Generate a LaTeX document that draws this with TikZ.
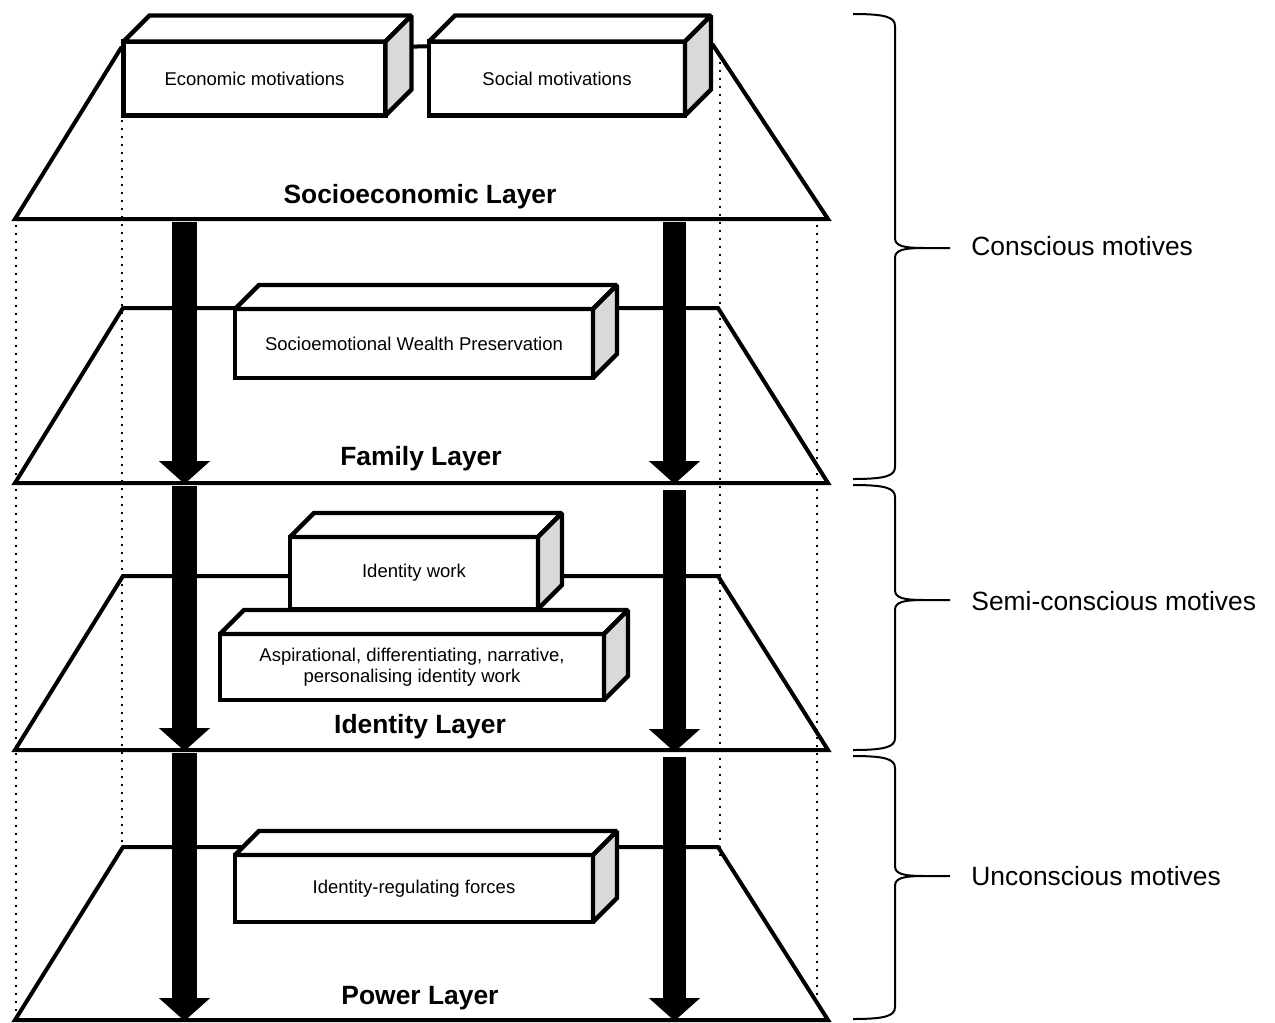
\documentclass[tikz,border=0pt]{standalone}
\usepackage{fontspec}
\setmainfont{Liberation Sans}
\usetikzlibrary{arrows.meta}
\definecolor{sidegray}{RGB}{217,217,217}

% top and right faces of a 3D box whose front face is node #1, depth #2
\newcommand\boxdepth[2]{%
  \draw[cubeface, fill=white] (#1.north west) -- ([shift={(#2,-#2)}]#1.north west)
     -- ([shift={(#2,-#2)}]#1.north east) -- (#1.north east) -- cycle;
  \draw[cubeface, fill=sidegray] (#1.north east) -- ([shift={(#2,-#2)}]#1.north east)
     -- ([shift={(#2,-#2)}]#1.south east) -- (#1.south east) -- cycle;
}

% curly bracket on the right: top, tip and bottom heights
\newcommand\motivebrace[3]{%
  \draw[bracket] (853,#1) .. controls (885,#1) and (895,{#1+3}) .. (895,{#1+12})
     -- (895,{#2-10}) .. controls (895,{#2-2}) and (903,#2) .. (925,#2) -- (950,#2)
     (925,#2) .. controls (903,#2) and (895,{#2+2}) .. (895,{#2+10})
     -- (895,{#3-12}) .. controls (895,{#3-3}) and (885,#3) .. (853,#3);
}

\begin{document}
\begin{tikzpicture}[x=0.5pt,y=-0.5pt,
  layerline/.style={line width=2pt, line join=miter},
  guide/.style={line width=0.75pt, dash pattern=on 0.75pt off 3.25pt},
  cubefront/.style={draw, line width=2.2pt, fill=white, inner sep=0pt, outer sep=0pt,
    align=center, font=\fontsize{9.25}{10.5}\selectfont},
  cubeface/.style={draw, line width=2.2pt, line join=miter, miter limit=1.5},
  layertitle/.style={anchor=base, font=\fontsize{13.2}{15}\selectfont\bfseries},
  motive/.style={anchor=base west, inner sep=0pt, font=\fontsize{13.2}{15}\selectfont},
  flow/.style={-{Triangle[width=25pt,length=11.5pt]}},
  bracket/.style={line width=1pt}
]
\useasboundingbox (0,0) rectangle (1275,1023);

% vertical dotted guides
\coordinate (gA1) at (16,225);   \coordinate (gA2) at (16,1012);
\coordinate (gB1) at (122,120);  \coordinate (gB2) at (122,842);
\coordinate (gC1) at (720,62);   \coordinate (gC2) at (720,862);
\coordinate (gD1) at (817,225);  \coordinate (gD2) at (817,1004);
\draw[guide] (gA1) -- (gA2);
\draw[guide] (gB1) -- (gB2);
\draw[guide] (gC1) -- (gC2);
\draw[guide] (gD1) -- (gD2);

% layers
\coordinate (L1tl) at (121,48);  \coordinate (L1tr) at (713,45);
\coordinate (L1br) at (828,219); \coordinate (L1bl) at (15,219);
\coordinate (L2tl) at (123,308); \coordinate (L2tr) at (718,308);
\coordinate (L2br) at (828,483); \coordinate (L2bl) at (15,483);
\coordinate (L3tl) at (123,576); \coordinate (L3tr) at (718,576);
\coordinate (L3br) at (828,750); \coordinate (L3bl) at (15,750);
\coordinate (L4tl) at (123,847); \coordinate (L4tr) at (718,847);
\coordinate (L4br) at (828,1020); \coordinate (L4bl) at (15,1020);
\draw[layerline] (L1tl) -- (L1tr) -- (L1br) -- (L1bl) -- cycle;
\draw[layerline] (L2tl) -- (L2tr) -- (L2br) -- (L2bl) -- cycle;
\draw[layerline] (L3tl) -- (L3tr) -- (L3br) -- (L3bl) -- cycle;
\draw[layerline] (L4tl) -- (L4tr) -- (L4br) -- (L4bl) -- cycle;

\node[layertitle] (t1) at (420,203) {Socioeconomic Layer};
\node[layertitle] (t2) at (421,465) {Family Layer};
\node[layertitle] (t3) at (420,733) {Identity Layer};
\node[layertitle] (t4) at (420,1004) {Power Layer};

% boxes
\node[cubefront, minimum width=131pt, minimum height=37pt] (eco) at (254.5,78.5) {Economic motivations};
\boxdepth{eco}{26}
\node[cubefront, minimum width=128pt, minimum height=37pt] (soc) at (557,78.5) {Social motivations};
\boxdepth{soc}{26}
\node[cubefront, minimum width=179pt, minimum height=34.5pt] (sew) at (414,343.5) {Socioemotional Wealth Preservation};
\boxdepth{sew}{24}
\node[cubefront, minimum width=124pt, minimum height=36pt] (idw) at (414,573) {Identity work};
\boxdepth{idw}{24}
\node[cubefront, minimum width=192pt, minimum height=33pt] (asp) at (412,667)
  {Aspirational, differentiating, narrative,\\personalising identity work};
\boxdepth{asp}{24}
\node[cubefront, minimum width=179pt, minimum height=33.5pt] (irf) at (414,888.5) {Identity-regulating forces};
\boxdepth{irf}{24}

% downward flows
\coordinate (la1) at (184.5,222); \coordinate (la2) at (184.5,484);
\coordinate (la3) at (184.5,486); \coordinate (la4) at (184.5,751);
\coordinate (la5) at (184.5,753); \coordinate (la6) at (184.5,1021);
\coordinate (ra1) at (674.5,222); \coordinate (ra2) at (674.5,484);
\coordinate (ra3) at (674.5,490); \coordinate (ra4) at (674.5,752);
\coordinate (ra5) at (674.5,757); \coordinate (ra6) at (674.5,1021);
\draw[flow, line width=12.5pt] (la1) -- (la2);
\draw[flow, line width=12.5pt] (la3) -- (la4);
\draw[flow, line width=12.5pt] (la5) -- (la6);
\draw[flow, line width=11.5pt] (ra1) -- (ra2);
\draw[flow, line width=11.5pt] (ra3) -- (ra4);
\draw[flow, line width=11.5pt] (ra5) -- (ra6);

% brackets and their labels
\motivebrace{14}{248}{479}
\motivebrace{485}{600}{750}
\motivebrace{756}{876}{1019}
\node[motive] (m1) at (971,255) {Conscious motives};
\node[motive] (m2) at (971,610) {Semi-conscious motives};
\node[motive] (m3) at (971,885) {Unconscious motives};
\end{tikzpicture}
\end{document}
